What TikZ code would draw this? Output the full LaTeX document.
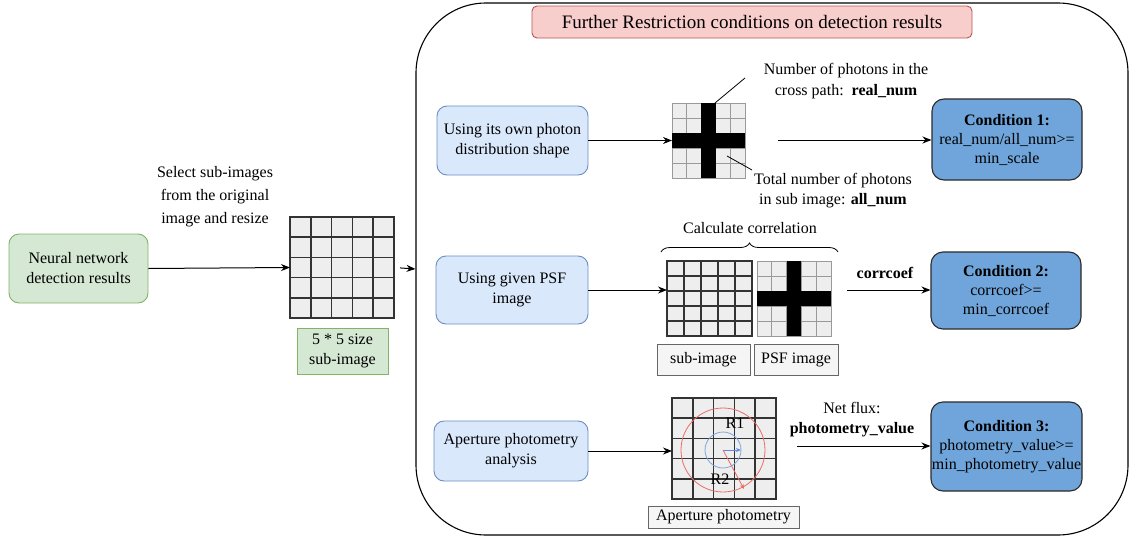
\documentclass[tikz,border=0pt]{standalone}
\usepackage{fontspec}
\setmainfont{Liberation Serif}
\usetikzlibrary{arrows.meta,decorations.pathreplacing,calc}
\definecolor{gfill}{HTML}{D5E8D4}\definecolor{gline}{HTML}{82B366}
\definecolor{bfill}{HTML}{DAE8FC}\definecolor{bline}{HTML}{6C8EBF}
\definecolor{pfill}{HTML}{F8CECC}\definecolor{pline}{HTML}{B85450}
\definecolor{cfill}{HTML}{6FA5DB}\definecolor{cline}{HTML}{2A2A2A}
\definecolor{lfill}{HTML}{F5F5F5}\definecolor{lline}{HTML}{666666}
\definecolor{cell}{HTML}{EEEEEE}\definecolor{dgrid}{HTML}{333333}
\definecolor{lgrid}{HTML}{9A9A9A}\definecolor{rcirc}{HTML}{EA6B66}
\definecolor{bcirc}{HTML}{7EA6E0}
\newcommand\gridlines[5]{%
  \foreach \i in {1,2,3,4}{%
    \draw[#5] ({#1+\i*#3/5},#2) -- ({#1+\i*#3/5},{#2+#4});
    \draw[#5] (#1,{#2+\i*#4/5}) -- ({#1+#3},{#2+\i*#4/5});
  }}
\newcommand\gridcross[4]{%
  \fill[black] ({#1+2*#3/5},#2) rectangle ({#1+3*#3/5},{#2+#4});
  \fill[black] (#1,{#2+2*#4/5}) rectangle ({#1+#3},{#2+3*#4/5});}
\tikzset{
  body/.style={font=\fontsize{16}{20}\selectfont},
  greenbox/.style={body, draw=gline, fill=gfill, line width=0.9pt, rounded corners=10pt, align=center, inner sep=0pt},
  bluebox/.style={body, draw=bline, fill=bfill, line width=0.9pt, rounded corners=10pt, align=center, inner sep=0pt},
  condbox/.style={body, draw=cline, fill=cfill, line width=1.1pt, rounded corners=12pt, align=center, inner sep=0pt, font=\fontsize{16}{19}\selectfont},
  lblbox/.style={body, draw=lline, fill=lfill, line width=0.8pt, align=center, inner sep=0pt},
  darkgrid/.style={draw=dgrid, fill=cell, line width=1.6pt, inner sep=0pt, outer sep=0pt},
  lightgrid/.style={draw=lgrid, fill=cell, line width=0.9pt, inner sep=0pt, outer sep=0pt},
  txt/.style={body, align=center, inner sep=0pt},
  arr/.style={-{Stealth[length=9pt,width=7pt]}, line width=1pt},
}
\begin{document}
\begin{tikzpicture}[x=1pt,y=-1pt]
\useasboundingbox (0,0) rectangle (1130,538);
% container
\node[draw, line width=1.1pt, rounded corners=70pt, minimum width=712pt, minimum height=532pt, inner sep=0pt] (cont) at (772,269) {};
\node[body, draw=pline, fill=pfill, line width=0.9pt, rounded corners=5pt, minimum width=440pt, minimum height=32pt, font=\fontsize{19}{22}\selectfont] (title) at (752,22) {Further Restriction conditions on detection results};
% left part
\node[greenbox, minimum width=139pt, minimum height=69pt] (nn) at (78.5,268.5) {Neural network\\detection results};
\node[txt, font=\fontsize{16}{23}\selectfont] (sel) at (215,197) {Select sub-images\\from the original\\image and resize};
\node[darkgrid, minimum width=104pt, minimum height=101pt] (g0) at (342,267.5) {};
\gridlines{290}{217}{104}{101}{dgrid, line width=1.6pt}
\node[body, draw=gline, fill=gfill, line width=0.9pt, align=center, inner sep=0pt, minimum width=91pt, minimum height=46pt] (l0) at (342.5,351) {5 * 5 size\\sub-image};
\draw[arr] (nn.east) -- (g0.west);
\draw[arr, shorten <=6pt] (g0.east) -- (cont.west);
% row 1
\node[bluebox, minimum width=151pt, minimum height=69pt] (b1) at (512.5,140.5) {Using its own photon\\distribution shape};
\node[lightgrid, minimum width=73pt, minimum height=75pt] (g1) at (708.5,140.5) {};
\gridlines{672}{103}{73}{75}{lgrid, line width=0.9pt}
\gridcross{672}{103}{73}{75}
\draw[arr] (b1.east) -- (g1.west);
\node[txt, font=\fontsize{16}{21}\selectfont] (t1) at (846,81) {Number of photons in the\\cross path:\ \ \textbf{real\_num}};
\node[txt, font=\fontsize{16}{20}\selectfont] (t2) at (833,191) {Total number of photons\\in sub image: \textbf{all\_num}};
\coordinate (p1a) at (715,103);
\coordinate (p1b) at (745,78);
\coordinate (p2a) at (727,156);
\coordinate (p2b) at (752,170);
\draw[line width=0.8pt] (p1a) -- (p1b);
\draw[line width=0.8pt] (p2a) -- (p2b);
\node[condbox, minimum width=150pt, minimum height=81pt] (c1) at (1007,139.5) {\textbf{Condition 1:}\\real\_num/all\_num>=\\min\_scale};
\coordinate (a1) at (778,140);
\draw[arr] (a1) -- (a1 -| c1.west);
% row 2
\node[bluebox, minimum width=152pt, minimum height=68pt] (b2) at (512,290) {Using given PSF\\image};
\node[darkgrid, minimum width=85pt, minimum height=75pt] (g2) at (709.5,298.5) {};
\gridlines{667}{261}{85}{75}{dgrid, line width=1.6pt}
\node[lightgrid, minimum width=74pt, minimum height=75pt] (g3) at (794,298.5) {};
\gridlines{757}{261}{74}{75}{lgrid, line width=0.9pt}
\gridcross{757}{261}{74}{75}
\draw[arr] (b2.east) -- (b2.east -| g2.west);
\coordinate (br1) at (661,252);
\coordinate (br2) at (838,252);
\draw[line width=0.8pt, decorate, decoration={brace, amplitude=9pt}] (br1) -- (br2);
\node[txt] (cc) at (750,228) {Calculate correlation};
\node[lblbox, minimum width=93pt, minimum height=31pt] (l2a) at (703.5,359.5) {sub-image};
\node[lblbox, minimum width=84pt, minimum height=31pt] (l2b) at (796,359.5) {PSF image};
\node[txt] (cf) at (885,273) {\textbf{corrcoef}};
\node[condbox, minimum width=150pt, minimum height=77pt] (c2) at (1006,290.5) {\textbf{Condition 2:}\\corrcoef>=\\min\_corrcoef};
\coordinate (a2) at (847,290);
\draw[arr] (a2) -- (a2 -| c2.west);
% row 3
\node[bluebox, minimum width=154pt, minimum height=60pt] (b3) at (511,451) {Aperture photometry\\analysis};
\node[darkgrid, minimum width=104pt, minimum height=101pt] (g4) at (724,448.5) {};
\gridlines{672}{398}{104}{101}{dgrid, line width=1.6pt}
\draw[arr] (b3.east) -- (b3.east -| g4.west);
\coordinate (o) at (723,450);
\draw[rcirc, line width=0.8pt] (o) circle[radius=42];
\draw[bcirc, line width=0.8pt] (o) circle[radius=18];
\coordinate (r1e) at (741,450);
\coordinate (r2e) at (744,489);
\draw[bcirc!80!blue, line width=0.8pt, -{Stealth[length=5pt,width=4pt]}] (o) -- (r1e);
\draw[rcirc, line width=0.8pt, -{Stealth[length=5pt,width=4pt]}] (o) -- (r2e);
\node[txt] (R1) at (735,423) {R1};
\node[txt] (R2) at (720,479) {R2};
\node[lblbox, minimum width=151pt, minimum height=22pt] (l3) at (723.5,517) {Aperture photometry};
\node[txt, font=\fontsize{16}{20}\selectfont] (nf) at (852,420) {Net flux:\\\textbf{photometry\_value}};
\node[condbox, minimum width=151pt, minimum height=89pt] (c3) at (1006.5,446.5) {\textbf{Condition 3:}\\photometry\_value>=\\min\_photometry\_value};
\coordinate (a3) at (797,446);
\draw[arr] (a3) -- (a3 -| c3.west);
\end{tikzpicture}
\end{document}
